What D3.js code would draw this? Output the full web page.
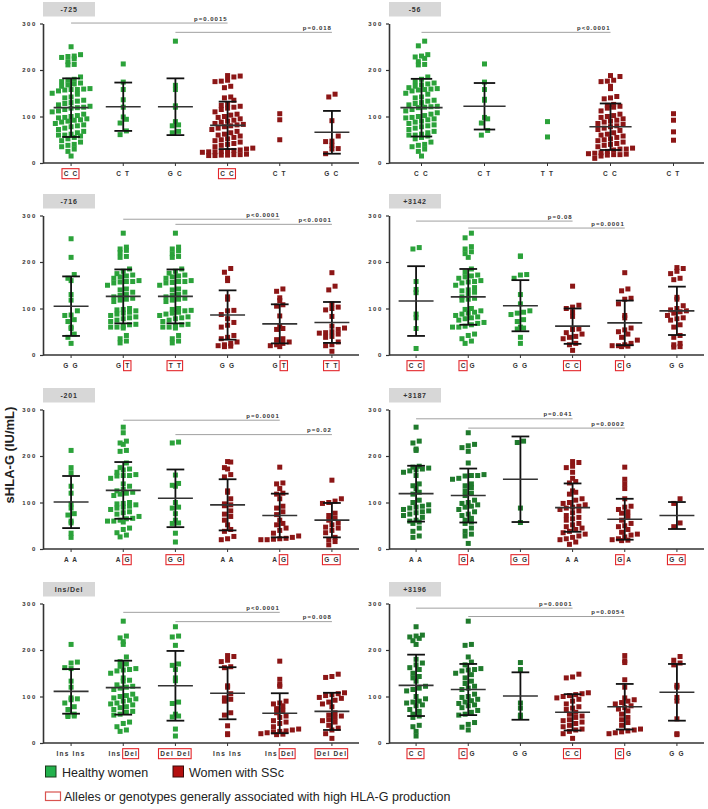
<!DOCTYPE html>
<html><head><meta charset="utf-8">
<script src="https://cdn.jsdelivr.net/npm/d3@7"></script>
<style>body{margin:0;background:#fff}svg{display:block}</style>
</head><body>
<svg id="chart" width="708" height="809"></svg>
<script>
// ---------------- DATA ----------------
const titles = ["-725", "-56", "-716", "+3142", "-201", "+3187", "Ins/Del", "+3196"];

const cats725 = ["C C","C T","G C","C C","C T","G C"];
const hl725 = [[0,3],null,null,[0,3],null,null];
const vals725 = [
 [250,233,230,229,227,224,218,212,211,185,180,178,175,172,170,168,165,160,159,158,158,157,155,150,148,142,140,135,133,130,128,125,122,120,119,118,115,112,110,105,102,100,98,97,95,93,92,90,88,85,82,80,78,75,72,68,65,62,60,60,58,55,52,48,45,40,38,35,30,25,15],
 [213,174,158,136,120,99,94,86,69,61],
 [262,167,158,123,120,89,82,80,68,65],
 [188,187,185,178,176,175,165,162,142,140,135,126,124,122,120,118,115,110,105,103,100,98,95,92,90,88,85,83,82,80,78,75,72,68,65,62,60,58,55,52,50,48,45,42,40,38,35,32,30,28,27,26,25,24,24,23,19,18,18,17,17,16,16],
 [106,93,50],
 [148,142,91,58,47,46,38,31,30,20]];
const mean725 = [119,121,121,81,null,66];
const sd725 = [63,52,61,51,null,46];
const sig725 = [[0,3,301,"p=0.0015"],[2,5,281,"p=0.018"]];

const cats56 = ["C C","C T","T T","C C","C T"];
const hl56 = [null,null,null,null,null];
const vals56 = [
 [262,252,233,230,228,225,218,212,211,185,180,175,172,170,168,165,162,160,159,158,157,155,150,148,142,140,135,133,130,128,125,122,121,120,119,115,112,108,105,102,100,98,97,95,93,90,88,85,82,80,78,75,72,68,65,62,60,60,58,55,52,45,40,38,35,30,25,15],
 [213,174,158,137,135,98,95,86,70,60],
 [89,56],
 [188,186,178,176,175,165,160,143,140,138,126,124,122,120,118,112,105,102,100,98,95,92,90,88,85,83,80,78,75,72,70,65,62,60,58,55,52,50,48,45,42,40,38,35,32,30,30,28,25,22,21,20,19,18,18,17,15,10],
 [106,92,67,49]];
const mean56 = [119,122,null,78,null];
const sd56 = [62,50,null,50,null];
const sig56 = [[0,3,281,"p<0.0001"]];

const cats716 = ["G G","G T","T T","G G","G T","T T"];
const hl716 = [null,[2,3],[0,3],null,[2,3],[0,3]];
const vals716 = [
 [250,210,173,165,160,130,118,95,86,85,76,72,60,57,45,38,25],
 [262,232,228,225,220,212,210,185,180,175,172,170,168,165,160,158,158,157,155,150,142,140,135,130,128,125,122,120,118,115,100,98,97,95,92,90,88,85,82,80,78,75,72,66,65,62,60,60,58,42,35,30,26],
 [262,232,228,224,218,212,210,185,180,176,172,170,168,165,160,158,158,156,155,150,142,140,135,130,128,125,122,120,118,115,100,98,96,95,92,90,88,85,82,80,78,75,72,66,65,62,60,60,58,42,35,30,26],
 [186,178,165,160,125,120,96,95,87,78,70,64,60,42,38,35,28,25,22,20,19,18],
 [142,137,123,117,108,105,84,62,57,55,35,33,28,25,22,20,18],
 [177,148,140,110,103,100,97,83,62,58,55,50,48,47,45,40,38,28,22,20,8]];
const mean716 = [105,126,126,86,67,70];
const sd716 = [64,58,58,53,42,44];
const sig716 = [[1,4,292,"p<0.0001"],[2,5,281,"p<0.0001"]];

const cats3142 = ["C C","C G","G G","C C","C G","G G"];
const hl3142 = [[0,3],[0,1],null,[0,3],[0,1],null];
const vals3142 = [
 [231,228,158,141,134,88,80,57,14],
 [262,252,233,228,222,218,210,185,178,172,170,168,165,160,158,157,155,150,145,140,138,135,130,125,122,120,118,100,98,95,92,90,88,85,82,80,78,75,70,68,65,62,60,60,45,42,35,30,25],
 [213,212,173,172,165,130,110,95,92,90,87,76,72,60,58,56,38,25],
 [148,107,103,100,92,83,56,55,48,45,40,38,35,25,22,10],
 [177,142,138,122,120,110,85,80,58,54,50,45,38,32,25,22,20,20,19,18],
 [188,186,180,175,165,162,124,120,106,100,97,95,93,90,85,80,78,75,65,60,42,38,25,22,18,17]];
const mean3142 = [116,125,106,62,69,95];
const sd3142 = [75,60,55,38,48,52];
const sig3142 = [[0,3,288,"p=0.08"],[1,4,273,"p=0.0001"]];

const cats201 = ["A A","A G","G G","A A","A G","G G"];
const hl201 = [null,[2,3],[0,3],null,[2,3],[0,3]];
const vals201 = [
 [212,175,164,135,120,97,88,76,73,60,56,34,25],
 [262,250,232,228,225,212,210,185,175,172,170,165,160,158,158,157,152,140,135,128,125,122,120,118,115,100,98,97,95,92,90,88,85,80,78,75,70,66,65,62,60,60,58,45,42,35,30,26],
 [230,228,159,141,137,135,100,90,88,76,62,56,55,34,15],
 [188,187,175,172,160,155,125,122,108,97,95,93,82,75,70,62,52,42,38,27,22,20],
 [176,142,140,130,120,118,108,92,88,80,74,62,55,52,45,40,34,28,25,23,22,21,20,20],
 [148,108,103,100,98,77,72,66,62,56,52,47,45,40,35,25,20,16,9]];
const mean201 = [101,126,109,95,72,62];
const sd201 = [56,61,62,55,47,37];
const sig201 = [[1,4,277,"p=0.0001"],[2,5,246,"p=0.02"]];

const cats3187 = ["A A","G A","G G","A A","G A","G G"];
const hl3187 = [null,[0,1],[0,3],null,[0,1],[0,3]];
const vals3187 = [
 [262,232,228,215,212,178,176,174,172,170,168,165,158,140,136,130,122,118,105,100,95,92,90,88,85,82,80,78,75,72,68,62,60,58,55,45,38,28,25],
 [250,225,222,218,210,185,160,158,158,157,152,150,140,136,132,125,120,115,105,100,98,95,92,90,85,80,75,72,66,62,58,55,45,38,32,28,12],
 [232,229,88,57],
 [188,186,178,175,165,152,145,142,125,122,118,108,105,100,98,95,92,90,88,85,82,78,72,68,65,62,55,52,48,45,42,38,35,32,28,25,22,20,15,10],
 [176,150,140,130,108,92,90,85,80,77,70,62,55,50,48,42,36,32,30,26,22,20,19,18],
 [108,98,56,48]];
const mean3187 = [119,115,150,89,64,72];
const sd3187 = [60,58,92,52,44,29];
const sig3187 = [[0,3,280,"p=0.041"],[1,4,260,"p=0.0002"]];

const catsInsDel = ["Ins Ins","Ins Del","Del Del","Ins Ins","Ins Del","Del Del"];
const hlInsDel = [null,[4,7],[0,7],null,[4,7],[0,7]];
const valsInsDel = [
 [212,174,172,162,160,133,120,97,95,93,86,78,72,62,60,58,57],
 [262,230,226,218,212,185,175,170,165,160,158,157,155,150,140,135,133,125,122,120,118,115,105,102,100,97,95,92,90,86,84,82,78,76,72,68,66,62,60,45,42,35,28,25],
 [250,230,228,210,170,167,158,140,134,88,85,62,58,56,30,15],
 [188,186,178,175,164,162,123,120,106,97,94,90,65,60,37,20,18],
 [176,137,126,122,90,86,84,80,74,70,65,58,55,48,45,42,35,30,28,26,25,24,22,20,19,18],
 [148,143,141,108,106,104,102,98,96,92,88,84,78,65,60,58,55,50,48,45,38,32,28,20,10]];
const meanInsDel = [111,119,123,107,64,68];
const sdInsDel = [48,58,75,56,43,40];
const sigInsDel = [[1,4,281,"p<0.0001"],[2,5,261,"p=0.008"]];

const cats3196 = ["C C","C G","G G","C C","C G","G G"];
const hl3196 = [[0,3],[0,1],null,[0,3],[0,1],null];
const vals3196 = [
 [250,232,230,228,225,220,212,180,172,168,162,158,150,143,140,133,122,118,115,112,100,95,90,88,86,82,80,72,68,62,58,55,38,35,25,15],
 [262,212,210,185,174,168,160,158,157,155,150,147,140,133,128,122,118,115,105,100,98,94,91,88,85,82,80,76,70,66,62,60,44,40,34,28],
 [173,158,86,75,60,56],
 [148,142,140,108,106,104,102,100,97,94,90,84,78,75,72,66,62,58,55,50,48,45,42,38,35,30,28,25,20,10],
 [188,177,173,136,120,97,93,90,87,84,80,76,73,69,62,55,50,44,38,30,28,26,24,22,20],
 [186,178,172,168,124,120,98,90,52,20,18]];
const mean3196 = [124,115,101,66,78,109];
const sd3196 = [66,55,51,39,49,61];
const sig3196 = [[0,3,290,"p=0.0001"],[1,4,272,"p=0.0054"]];

const yTicks = [0,100,200,300];
const legendLabels = ["Healthy women", "Women with SSc", "Alleles or genotypes generally associated with high HLA-G production"];
const yLabel = "sHLA-G (IU/mL)";

// ---------------- BUILD ----------------
const panels = [
 {cats:cats725, hl:hl725, vals:vals725, mean:mean725, sd:sd725, sig:sig725},
 {cats:cats56, hl:hl56, vals:vals56, mean:mean56, sd:sd56, sig:sig56},
 {cats:cats716, hl:hl716, vals:vals716, mean:mean716, sd:sd716, sig:sig716},
 {cats:cats3142, hl:hl3142, vals:vals3142, mean:mean3142, sd:sd3142, sig:sig3142},
 {cats:cats201, hl:hl201, vals:vals201, mean:mean201, sd:sd201, sig:sig201},
 {cats:cats3187, hl:hl3187, vals:vals3187, mean:mean3187, sd:sd3187, sig:sig3187},
 {cats:catsInsDel, hl:hlInsDel, vals:valsInsDel, mean:meanInsDel, sd:sdInsDel, sig:sigInsDel},
 {cats:cats3196, hl:hl3196, vals:vals3196, mean:mean3196, sd:sd3196, sig:sig3196}
];
const greenBright = "#2ba23a", greenDark = "#1f7a2c", redC = "#8c1616";
const greenByPanel = [greenBright,greenBright,greenBright,greenBright,greenBright,greenDark,greenBright,greenDark];
const rowTops = [2,194,388,582];
const svg = d3.select("#chart");
const FONT = "Liberation Sans, Arial, sans-serif";

// row-binned scatter layout: points sharing a row are spread horizontally, y kept exact
function swarm(vals, y, rowH, sp){
  const y0 = y(0);
  const pts = vals.map(v=>({v, y:y(v)}));
  const bins = d3.group(pts, p=>Math.round((y0-p.y)/rowH));
  bins.forEach(arr=>{
    arr.sort((a,b)=>a.v-b.v);
    const n = arr.length;
    arr.forEach((p,j)=>{ p.dx = (j-(n-1)/2)*sp; });
  });
  return pts;
}

panels.forEach((P,pi)=>{
  const col = pi%2, row = Math.floor(pi/2);
  const top = rowTops[row];
  const axisX = col===0?43:389;
  const n = P.cats.length;
  const bandRange = col===0?[45,358]:(n===5?[390,705]:[390,703]);
  const lineEnd = col===0?359:704;
  const y = d3.scaleLinear().domain([0,300]).range([top+161, top+21.5]);
  const x = d3.scaleBand().domain(d3.range(n)).range(bandRange);
  const bw = x.bandwidth();
  const g = svg.append("g");
  const green = greenByPanel[pi];

  // title box
  g.append("rect").attr("x",axisX).attr("y",top).attr("width",52).attr("height",14.5).attr("fill","#d7d7d7");
  g.append("text").attr("x",axisX+26).attr("y",top+10).attr("text-anchor","middle")
    .attr("font-family",FONT).attr("font-weight","bold").attr("font-size",7).attr("letter-spacing",0.8)
    .attr("fill","#333").text(titles[pi]);

  // significance lines
  P.sig.forEach(s=>{
    const x1 = x(s[0])+bw/2, x2 = x(s[1])+bw/2, yy = y(s[2]);
    g.append("line").attr("x1",x1).attr("x2",x2).attr("y1",yy).attr("y2",yy).attr("stroke","#a0a0a0").attr("stroke-width",1);
    g.append("text").attr("x",x2).attr("y",yy-2.5).attr("text-anchor","end")
      .attr("font-family",FONT).attr("font-weight","bold").attr("font-size",6).attr("letter-spacing",1)
      .attr("fill","#333").text(s[3]);
  });

  // y axis
  const ya = g.append("g").attr("transform",`translate(${axisX},0)`)
    .call(d3.axisLeft(y).tickValues(yTicks).tickSize(3).tickSizeOuter(0).tickPadding(3));
  ya.select(".domain").attr("stroke","#333").attr("stroke-width",1.6);
  ya.selectAll(".tick line").attr("stroke","#333").attr("stroke-width",1.2);
  ya.selectAll(".tick text").attr("font-family",FONT).attr("font-weight","bold").attr("font-size",6)
    .attr("letter-spacing",1.6).attr("fill","#333");

  // x axis
  const xa = g.append("g").attr("transform",`translate(0,${y(0)})`)
    .call(d3.axisBottom(x).tickSize(3).tickSizeOuter(0).tickPadding(4).tickFormat(i=>P.cats[i]));
  xa.select(".domain").remove();
  xa.append("line").attr("x1",axisX).attr("x2",lineEnd).attr("y1",0).attr("y2",0).attr("stroke","#333").attr("stroke-width",1.6);
  xa.selectAll(".tick line").attr("stroke","#333").attr("stroke-width",1);
  xa.selectAll(".tick text").attr("font-family",FONT).attr("font-weight","bold").attr("font-size",6.5)
    .attr("letter-spacing",1.2).attr("fill","#333").attr("dy","0.95em");

  // highlight boxes
  xa.selectAll(".tick").each(function(i){
    const h = P.hl[i]; if(!h) return;
    const t = d3.select(this).select("text").node();
    let x0=Infinity,x1=-Infinity,y0=Infinity,y1=-Infinity;
    for(let c=h[0];c<h[1];c++){
      if(P.cats[i][c]===" ") continue;
      const e = t.getExtentOfChar(c);
      x0=Math.min(x0,e.x); x1=Math.max(x1,e.x+e.width); y0=Math.min(y0,e.y); y1=Math.max(y1,e.y+e.height);
    }
    x1 -= 1.2;
    d3.select(this).insert("rect","text").attr("x",x0-1.7).attr("y",y0-1.5).attr("width",x1-x0+3.4).attr("height",y1-y0+3)
      .attr("fill","none").attr("stroke","#e3262b").attr("stroke-width",1.1);
  });

  // points
  P.vals.forEach((vals,gi)=>{
    const cx = x(gi)+bw/2;
    const col = gi<3?green:redC;
    const pts = swarm(vals,y,6,6.3);
    g.append("g").selectAll("rect").data(pts).join("rect")
      .attr("x",d=>cx+d.dx-2.5).attr("y",d=>d.y-2.5).attr("width",5).attr("height",5).attr("fill",col);
  });

  // mean & SD
  P.mean.forEach((m,gi)=>{
    if(m===null) return;
    const cx = x(gi)+bw/2, s = P.sd[gi];
    const mw = bw*0.67, cw = bw*0.34;
    g.append("line").attr("x1",cx).attr("x2",cx).attr("y1",y(m+s)).attr("y2",y(m-s)).attr("stroke","#111").attr("stroke-width",1.8);
    [m+s,m-s].forEach(v=>g.append("line").attr("x1",cx-cw/2).attr("x2",cx+cw/2).attr("y1",y(v)).attr("y2",y(v)).attr("stroke","#111").attr("stroke-width",1.8));
    g.append("line").attr("x1",cx-mw/2).attr("x2",cx+mw/2).attr("y1",y(m)).attr("y2",y(m)).attr("stroke","#333").attr("stroke-width",1.6);
  });
});

// y label
svg.append("text").attr("transform","translate(14,455) rotate(-90)").attr("text-anchor","middle")
  .attr("font-family",FONT).attr("font-weight","bold").attr("font-size",13).attr("fill","#222").text(yLabel);

// legend
const lg = svg.append("g").attr("font-family",FONT).attr("font-size",12.5).attr("fill","#222");
lg.append("rect").attr("x",45.5).attr("y",766).attr("width",10.5).attr("height",11).attr("fill","#22b14c").attr("stroke","#1a3a1a").attr("stroke-width",1);
lg.append("text").attr("x",62).attr("y",777).text(legendLabels[0]);
lg.append("rect").attr("x",173).attr("y",766).attr("width",10.5).attr("height",11).attr("fill","#b30f0f").attr("stroke","#3a0a0a").attr("stroke-width",1);
lg.append("text").attr("x",189).attr("y",777).text(legendLabels[1]);
lg.append("rect").attr("x",45.5).attr("y",792).attr("width",15).attr("height",8.5).attr("fill","none").attr("stroke","#d9534f").attr("stroke-width",1.2);
lg.append("text").attr("x",64).attr("y",800.5).text(legendLabels[2]);
</script>
</body></html>
